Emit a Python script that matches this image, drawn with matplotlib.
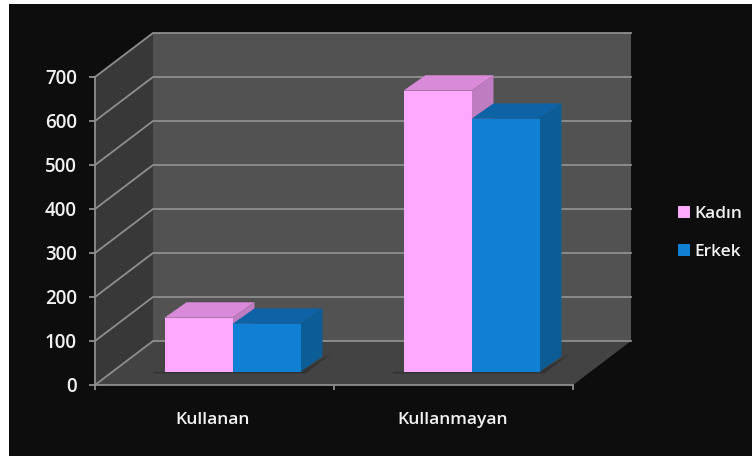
import matplotlib
matplotlib.use("Agg")
import matplotlib.pyplot as plt
from matplotlib.patches import Polygon, Rectangle, Patch

categories = ["Kullanan", "Kullanmayan"]
kadin = [123, 639]
erkek = [109, 575]
y_ticks = [0, 100, 200, 300, 400, 500, 600, 700]
series_names = ["Kadın", "Erkek"]

# renkler (on, ust, yan)
pink = ("#ffa8ff", "#d98ad9", "#c07cc0")
blue = ("#1080d4", "#0e63a6", "#0c5c96")
line_col = "#8e8e8e"
text_col = "#f2f2f2"

# 3d gorunum icin kaydirma
wall_dx = 58 / 239
wall_dy = 100
bar_dx = 22 / 239
bar_dy = 35
base_dx = 18 / 239
base_dy = 30
bar_w = 68 / 239

plt.rcParams["font.family"] = "Open Sans"
plt.rcParams["font.weight"] = "semibold"

fig = plt.figure(figsize=(7.52, 4.57), dpi=100, facecolor="white")
fig.add_artist(Rectangle((9 / 752, 1 / 457), 743 / 752, 452 / 457, transform=fig.transFigure,
                         facecolor="#0d0d0d", edgecolor="none", zorder=-5))

ax = fig.add_axes([95 / 752, 72 / 457, 478 / 752, 308 / 457])
ax.patch.set_visible(False)
ax.set_xlim(0, 2)
ax.set_ylim(0, 700)


def poly(points, color, z):
    ax.add_patch(Polygon(points, closed=True, facecolor=color, edgecolor="none", clip_on=False, zorder=z))


# duvarlar ve taban
top = y_ticks[-1]
poly([(0, 0), (wall_dx, wall_dy), (wall_dx, top + wall_dy), (0, top)], "#383838", 0.5)
poly([(wall_dx, wall_dy), (2 + wall_dx, wall_dy), (2 + wall_dx, top + wall_dy), (wall_dx, top + wall_dy)], "#525252", 0.5)
poly([(0, 0), (2, 0), (2 + wall_dx, wall_dy), (wall_dx, wall_dy)], "#434343", 0.6)

# izgara
for v in y_ticks:
    ax.plot([0, wall_dx, 2 + wall_dx], [v, v + wall_dy, v + wall_dy], color=line_col, lw=1.3,
            clip_on=False, zorder=1, solid_joinstyle="miter")


def draw_bar(left, value, colors, z):
    right = left + bar_w
    y0 = base_dy
    y1 = base_dy + value
    ax.bar(left, value, width=bar_w, bottom=y0, align="edge", color=colors[0], zorder=z + 0.2, clip_on=False)
    poly([(left, y1), (right, y1), (right + bar_dx, y1 + bar_dy), (left + bar_dx, y1 + bar_dy)], colors[1], z)
    poly([(right, y0), (right + bar_dx, y0 + bar_dy), (right + bar_dx, y1 + bar_dy), (right, y1)], colors[2], z + 0.1)


for i in range(len(categories)):
    center = i + 0.5 + base_dx
    # golge
    poly([(center - bar_w - 0.045, base_dy), (center + bar_w, base_dy),
          (center + bar_w + bar_dx + 0.04, base_dy + bar_dy + 8),
          (center + bar_w + 0.02, base_dy - 4), (center - bar_w - 0.045, base_dy - 4)], "#333333", 1.5)
    draw_bar(center - bar_w, kadin[i], pink, 3)
    draw_bar(center, erkek[i], blue, 4)

# eksenler
for name in ["top", "right"]:
    ax.spines[name].set_visible(False)
for name in ["left", "bottom"]:
    ax.spines[name].set_color(line_col)
    ax.spines[name].set_linewidth(1.3)

ax.set_yticks(y_ticks)
ax.tick_params(axis="y", length=4.5, width=1.3, color=line_col, labelcolor=text_col, labelsize=13.5, pad=8.5)
ax.set_xticks([0, 1, 2])
ax.set_xticklabels([])
ax.tick_params(axis="x", which="major", length=3.5, width=1.3, color=line_col)
ax.set_xticks([0.49, 1.495], minor=True)
ax.set_xticklabels(categories, minor=True)
ax.tick_params(axis="x", which="minor", length=0, labelcolor=text_col, labelsize=12.6, pad=19.5)

handles = [Patch(facecolor=pink[0], label=series_names[0]), Patch(facecolor=blue[0], label=series_names[1])]
fig.legend(handles=handles, loc="center left", bbox_to_anchor=(678 / 752, 1 - 233 / 457), frameon=False,
           fontsize=12.5, labelcolor=text_col, handlelength=0.7, handleheight=0.7, handletextpad=0.25,
           labelspacing=1.25, borderpad=0, borderaxespad=0)

fig.savefig("out.png", dpi=100, facecolor=fig.get_facecolor())
